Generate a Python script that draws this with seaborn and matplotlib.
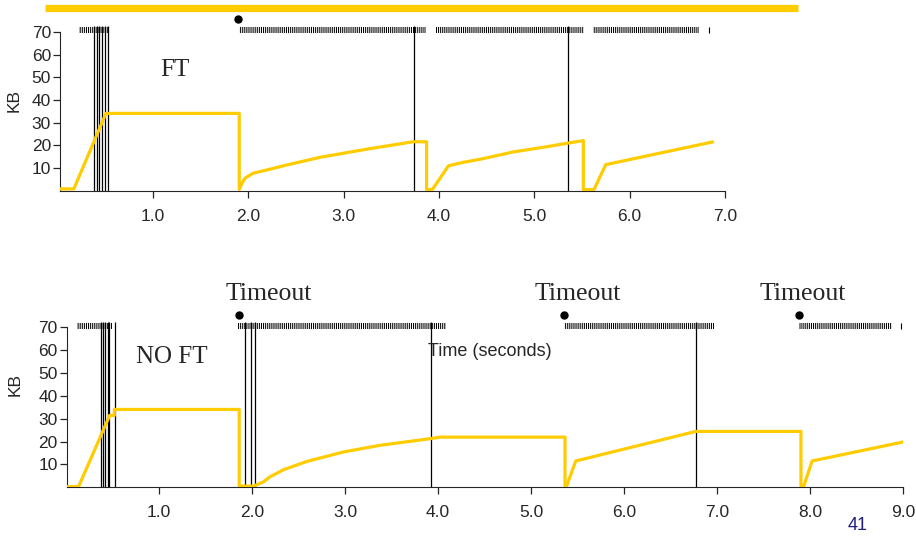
import numpy as np
import pandas as pd
import matplotlib
matplotlib.use("Agg")
import matplotlib.pyplot as plt
from matplotlib.lines import Line2D
import seaborn as sns

# ---------------- data ----------------
# congestion window (KB) vs time (s) -- FT
ft_time = [0.025, 0.17, 0.507, 1.905, 1.905, 1.93, 1.965, 2.05, 2.19, 2.40, 2.75, 3.24, 3.73,
           3.87, 3.87, 3.93, 4.10, 4.255, 4.448, 4.78, 5.13, 5.34, 5.514, 5.514, 5.626, 5.749, 6.87]
ft_kb = [0.8, 0.8, 34.1, 34.1, 0.5, 3.0, 5.5, 7.7, 9.1, 11.3, 14.7, 18.3, 21.6,
         21.6, 0.5, 0.5, 11.0, 12.5, 14.0, 17.1, 19.4, 20.9, 22.1, 0.5, 0.5, 11.5, 21.5]
# congestion window (KB) vs time (s) -- NO FT
noft_time = [0.008, 0.136, 0.47, 0.52, 0.52, 1.862, 1.862, 2.013, 2.12, 2.19, 2.34, 2.59, 2.98,
             3.37, 3.91, 4.02, 5.364, 5.364, 5.38, 5.48, 6.77, 7.90, 7.90, 7.93, 8.02, 9.0]
noft_kb = [0.3, 0.3, 31.4, 31.4, 34.0, 34.0, 0.5, 0.5, 2.3, 4.5, 7.7, 11.3, 15.4,
           18.3, 21.2, 21.9, 21.9, 0.5, 0.5, 11.5, 24.4, 24.4, 0.5, 0.5, 11.5, 19.8]

# packet transmission bursts (start, end) in seconds
ft_bursts = [(0.224, 0.528), (1.905, 3.86), (3.97, 5.525), (5.62, 6.73)]
ft_single = [6.83]
noft_bursts = [(0.12, 0.51), (1.845, 4.09), (5.35, 6.96), (7.88, 8.88)]
noft_single = [8.97]

# loss / retransmission markers (long vertical lines)
ft_losses = [0.384, 0.409, 0.437, 0.465, 0.50, 0.525, 3.74, 5.356]
noft_losses = [0.373, 0.401, 0.422, 0.451, 0.466, 0.530, 1.924, 1.994, 2.032, 3.92, 6.77]

# timeout dots
ft_timeouts = [1.89]
noft_timeouts = [1.86, 5.35, 7.88]
timeout_label_x = [2.18, 5.50, 7.92]

yticks = [10, 20, 30, 40, 50, 60, 70]
ft_xticks = [1.0, 2.0, 3.0, 4.0, 5.0, 6.0, 7.0]
noft_xticks = [1.0, 2.0, 3.0, 4.0, 5.0, 6.0, 7.0, 8.0, 9.0]

YEL = "#FFCC00"

# ---------------- style ----------------
sns.set_style("ticks")
plt.rcParams["font.family"] = ["Liberation Sans", "DejaVu Sans"]
plt.rcParams["hatch.linewidth"] = 0.75

fig = plt.figure(figsize=(9.16, 5.58), dpi=100)
ax1 = fig.add_axes([60 / 916, 1 - 190.7 / 558, 665 / 916, 76 * 2.267 / 558])
ax2 = fig.add_axes([66.7 / 916, 1 - 487.3 / 558, 836.6 / 916, 76 * 2.29 / 558])

# slide decoration bar
fig.add_artist(Line2D([45 / 916, 798 / 916], [1 - 8.3 / 558] * 2, color=YEL, lw=5.2,
                      solid_capstyle="butt"))


def draw(ax, t, kb, bursts, single, losses, timeouts, xlim, xticks, burst_y, line_top, dot_y):
    ax.vlines(losses, 0, line_top, color="black", lw=0.9, zorder=1)
    ax.broken_barh([(s, e - s) for s, e in bursts], (burst_y[0], burst_y[1] - burst_y[0]),
                   facecolors="none", edgecolors="black", hatch="|" * 8, linewidth=0,
                   clip_on=False, zorder=1)
    ax.vlines(single, burst_y[0], burst_y[1], color="black", lw=0.8, clip_on=False)
    df = pd.DataFrame({"t": t, "kb": kb})
    sns.lineplot(data=df, x="t", y="kb", ax=ax, sort=False, estimator=None,
                 color=YEL, lw=2.3, zorder=3)
    ax.plot(timeouts, [dot_y] * len(timeouts), "o", color="black", ms=5, clip_on=False)
    ax.set_xlim(*xlim)
    ax.set_ylim(0, 76)
    ax.set_xticks(xticks)
    ax.set_xticklabels([f"{v:.1f}" for v in xticks])
    ax.set_yticks(yticks)
    ax.set_yticklabels([str(v) for v in yticks])
    ax.spines["top"].set_visible(False)
    ax.spines["right"].set_visible(False)
    ax.spines["left"].set_bounds(0, 70)
    ax.tick_params(axis="x", length=5, width=0.9, pad=8, labelsize=12.5)
    ax.tick_params(axis="y", length=5, width=0.9, pad=1.5, labelsize=12.5)
    ax.set_xlabel("")
    ax.set_ylabel("KB", fontsize=12.5)


draw(ax1, ft_time, ft_kb, ft_bursts, ft_single, ft_losses, ft_timeouts,
     (0.025, 7.0), ft_xticks, (69.6, 72.3), 72.5, 75.7)
draw(ax2, noft_time, noft_kb, noft_bursts, noft_single, noft_losses, noft_timeouts,
     (0.008, 9.0), noft_xticks, (69.0, 71.9), 72.0, 75.1)

ax1.yaxis.set_label_coords(-0.057, 0.526)
ax2.yaxis.set_label_coords(-0.053, 0.588)

serif = ["Liberation Serif", "DejaVu Serif"]
ax1.text(1.23, 53.2, "FT", family=serif, fontsize=18, ha="center", va="center")
ax2.text(1.14, 56.9, "NO FT", family=serif, fontsize=18, ha="center", va="center")
for x in timeout_label_x:
    ax2.text(x, 84.5, "Timeout", family=serif, fontsize=18.5, ha="center", va="center",
             clip_on=False)
ax2.text(4.56, 59.1, "Time (seconds)", fontsize=13, ha="center", va="center")

fig.text(858 / 916, 1 - 525 / 558, "41", color="#1F1F80", fontsize=13, ha="center", va="center")

fig.savefig("out.png", dpi=100)
